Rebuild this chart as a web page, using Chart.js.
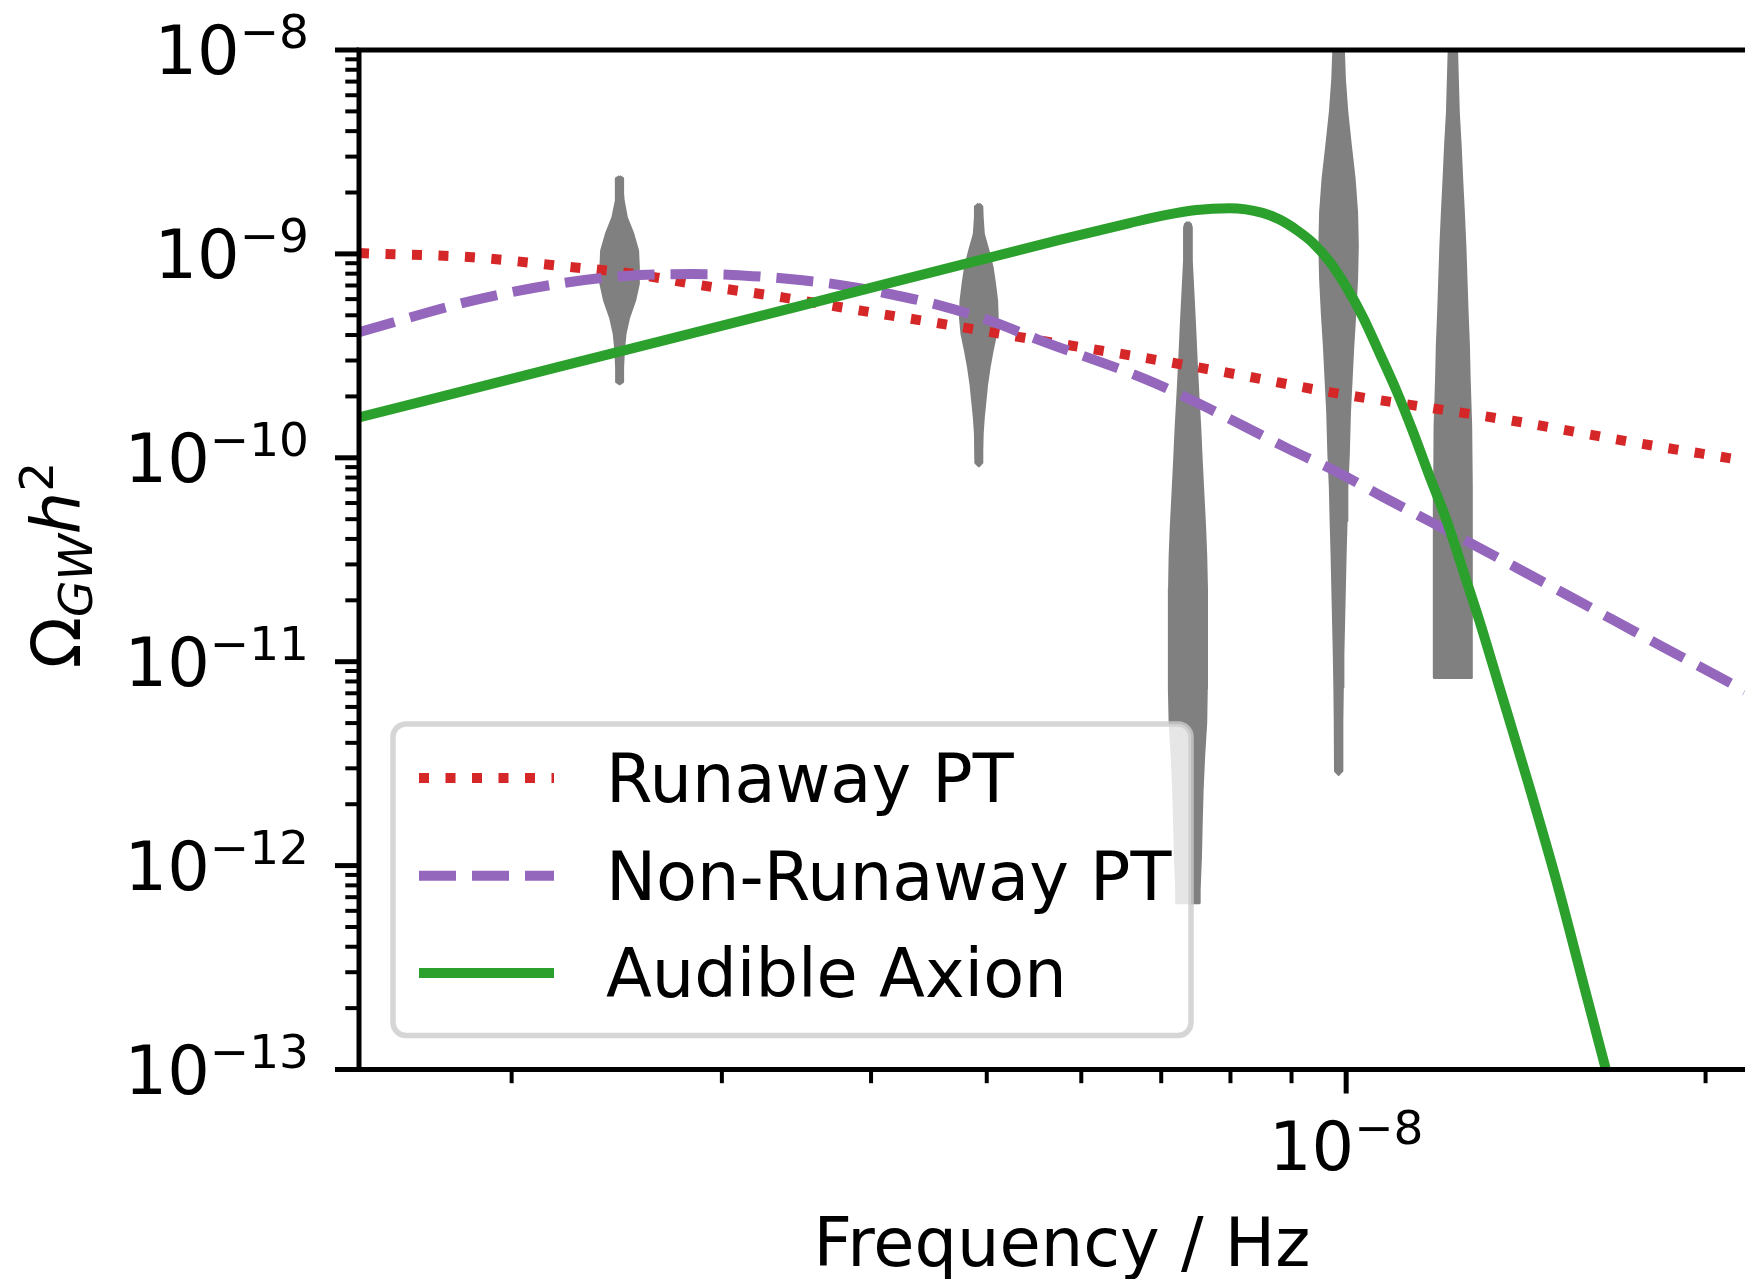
<!DOCTYPE html>
<html>
<head>
<meta charset="utf-8">
<title>Omega_GW h^2 vs frequency</title>
<script src="https://cdn.jsdelivr.net/npm/chart.js@4.4.1/dist/chart.umd.min.js"></script>
<style>
  html, body { margin: 0; padding: 0; background: #fff; }
  canvas { display: block; }
</style>
</head>
<body>
<canvas id="gw" width="1745" height="1279"></canvas>
<script>
// ---- data ----
// axis ranges
var xMin = 1.49e-9, xMax = 2.158e-8;
var yMin = 1e-13, yMax = 1e-8;
var yTickExponents = [-13, -12, -11, -10, -9, -8];
var xTickExponents = [-8];

var legendLabels = ['Runaway PT', 'Non-Runaway PT', 'Audible Axion'];

// Runaway PT (red dotted)
var runawayF = [1.490e-9, 1.855e-9, 2.250e-9, 2.496e-9, 2.895e-9, 3.373e-9, 3.920e-9, 4.556e-9,
  5.297e-9, 6.805e-9, 8.253e-9, 9.685e-9, 1.174e-8, 1.378e-8, 1.727e-8, 2.158e-8];
var runawayOmega = [1.009e-9, 9.62e-10, 8.60e-10, 8.07e-10, 6.99e-10, 6.12e-10, 5.27e-10, 4.57e-10,
  3.93e-10, 3.08e-10, 2.51e-10, 2.10e-10, 1.76e-10, 1.52e-10, 1.20e-10, 9.68e-11];

// Non-Runaway PT (purple dashed)
var nonRunawayF = [1.490e-9, 1.855e-9, 2.185e-9, 2.491e-9, 2.836e-9, 3.062e-9, 3.289e-9, 3.505e-9,
  3.763e-9, 4.146e-9, 4.574e-9, 5.027e-9, 5.535e-9, 6.805e-9, 7.435e-9, 8.190e-9, 8.965e-9,
  9.817e-9, 1.073e-8, 1.174e-8, 1.286e-8, 1.389e-8, 1.530e-8, 1.678e-8, 1.838e-8, 2.012e-8, 2.158e-8];
var nonRunawayOmega = [4.13e-10, 5.90e-10, 7.13e-10, 7.80e-10, 7.96e-10, 7.89e-10, 7.68e-10, 7.42e-10,
  7.05e-10, 6.36e-10, 5.58e-10, 4.71e-10, 3.78e-10, 2.42e-10, 1.91e-10, 1.44e-10, 1.10e-10,
  8.55e-11, 6.44e-11, 4.89e-11, 3.68e-11, 2.89e-11, 2.13e-11, 1.59e-11, 1.19e-11, 8.97e-12, 7.20e-12];

// Audible Axion (green solid)
var axionF = [1.490e-9, 2.194e-9, 3.484e-9, 5.754e-9, 6.586e-9, 7.019e-9, 7.492e-9, 7.986e-9,
  8.511e-9, 8.795e-9, 9.088e-9, 9.373e-9, 9.685e-9, 1.0008e-8, 1.032e-8, 1.067e-8, 1.102e-8,
  1.137e-8, 1.174e-8, 1.214e-8, 1.261e-8, 1.293e-8, 1.339e-8, 1.419e-8, 1.500e-8, 1.578e-8,
  1.649e-8, 1.711e-8];
var axionOmega = [1.578e-10, 2.799e-10, 5.545e-10, 1.171e-9, 1.416e-9, 1.541e-9, 1.643e-9, 1.675e-9,
  1.590e-9, 1.474e-9, 1.310e-9, 1.136e-9, 9.168e-10, 6.848e-10, 4.952e-10, 3.245e-10, 2.129e-10,
  1.352e-10, 8.167e-11, 4.912e-11, 2.495e-11, 1.587e-11, 8.057e-12, 2.603e-12, 8.41e-13, 2.718e-13,
  1.017e-13, 4.457e-14];

// violins: frequency bins, and for each one the Omega values along it with the relative width there
var violinF = [2.463e-9, 4.924e-9, 7.37e-9, 9.855e-9, 1.2285e-8];
var violin1Omega = [2.394e-9, 2.341e-9, 1.976e-9, 1.826e-9, 1.507e-9, 1.258e-9, 1.038e-9, 8.566e-10,
  7.151e-10, 5.901e-10, 4.869e-10, 4.063e-10, 3.353e-10, 2.767e-10, 2.362e-10, 2.309e-10];
var violin1Width = [0, 0.16, 0.16, 0.19, 0.36, 0.70, 0.96, 1.0, 1.0, 0.80, 0.48, 0.29, 0.20, 0.16, 0.16, 0];
var violin2Omega = [1.759e-9, 1.707e-9, 1.512e-9, 1.253e-9, 1.038e-9, 8.594e-10, 7.126e-10, 5.901e-10,
  4.886e-10, 4.050e-10, 3.353e-10, 2.777e-10, 2.302e-10, 1.906e-10, 1.579e-10, 1.309e-10, 1.083e-10,
  9.462e-11, 9.147e-11];
var violin2Width = [0, 0.16, 0.18, 0.24, 0.49, 0.71, 0.84, 0.95, 0.98, 0.90, 0.71, 0.55, 0.42, 0.33,
  0.24, 0.18, 0.16, 0.16, 0];
var violin3Omega = [1.429e-9, 1.400e-9, 1.350e-9, 9.272e-10, 6.363e-10, 4.362e-10, 2.995e-10, 2.056e-10,
  1.410e-10, 9.678e-11, 6.643e-11, 4.555e-11, 3.308e-11, 2.279e-11, 1.295e-11, 7.362e-12, 5.030e-12,
  3.453e-12, 2.378e-12, 1.626e-12, 1.115e-12, 7.685e-13, 6.582e-13];
var violin3Width = [0, 0.13, 0.18, 0.18, 0.27, 0.36, 0.44, 0.53, 0.63, 0.71, 0.80, 0.89, 0.95, 0.98,
  1.0, 0.98, 0.95, 0.84, 0.76, 0.71, 0.67, 0.60, 0.60];
var violin4Omega = [1.562e-8, 9.754e-9, 7.224e-9, 4.952e-9, 3.399e-9, 2.333e-9, 1.600e-9, 1.098e-9,
  7.539e-10, 5.167e-10, 3.548e-10, 2.435e-10, 1.670e-10, 1.043e-10, 7.157e-11, 4.912e-11, 3.373e-11,
  2.312e-11, 1.587e-11, 1.090e-11, 7.472e-12, 5.129e-12, 3.520e-12, 2.914e-12, 2.802e-12];
var violin4Width = [0.20, 0.26, 0.31, 0.44, 0.63, 0.83, 0.96, 1.0, 0.96, 0.87, 0.76, 0.67, 0.58, 0.52,
  0.44, 0.40, 0.35, 0.31, 0.27, 0.23, 0.20, 0.18, 0.17, 0.16, 0];
var violin5Omega = [1.562e-8, 9.754e-9, 4.952e-9, 3.399e-9, 2.333e-9, 1.600e-9, 1.098e-9, 7.539e-10,
  5.167e-10, 3.548e-10, 2.435e-10, 1.437e-10, 7.157e-11, 3.373e-11, 1.587e-11, 8.366e-12];
var violin5Width = [0.19, 0.20, 0.29, 0.39, 0.47, 0.56, 0.64, 0.70, 0.76, 0.83, 0.87, 0.95, 0.97, 0.99,
  0.99, 0.99];

// ---- styling ----
var RED = '#d62728', PURPLE = '#9467bd', GREEN = '#2ca02c', GREY = '#808080';
var LW = 10;
var DOTTED = [10, 16.5], DASHED = [37, 16];
var VIOLIN_HALF_DEX = 0.0157;   // half width of a violin at full density, in decades of frequency
var FONT = '"DejaVu Sans", "Liberation Sans", sans-serif';
var BIG = '67px ' + FONT, SMALL = '47px ' + FONT;

function pts(xs, ys) {
  return xs.map(function (x, i) { return { x: x, y: ys[i] }; });
}

function violinOutline(f, omega, width) {
  var left = omega.map(function (y, i) { return { x: f * Math.pow(10, -width[i] * VIOLIN_HALF_DEX), y: y }; });
  var right = omega.map(function (y, i) { return { x: f * Math.pow(10, width[i] * VIOLIN_HALF_DEX), y: y }; }).reverse();
  return left.concat(right, [left[0]]);
}

function lineSet(label, data, color, dash, order) {
  return {
    label: label, data: data, showLine: true, fill: false,
    borderColor: color, borderWidth: LW, borderDash: dash, borderCapStyle: 'butt',
    pointRadius: 0, cubicInterpolationMode: 'monotone', clip: 0, order: order, isLegend: true
  };
}

function violinSet(data) {
  return {
    data: data, showLine: true, fill: 'shape', tension: 0,
    backgroundColor: GREY, borderColor: GREY, borderWidth: 3, borderJoinStyle: 'round',
    pointRadius: 0, clip: 0, order: 5
  };
}

var datasets = [
  lineSet(legendLabels[0], pts(runawayF, runawayOmega), RED, DOTTED, 2),
  lineSet(legendLabels[1], pts(nonRunawayF, nonRunawayOmega), PURPLE, DASHED, 1),
  lineSet(legendLabels[2], pts(axionF, axionOmega), GREEN, [], 0),
  violinSet(violinOutline(violinF[0], violin1Omega, violin1Width)),
  violinSet(violinOutline(violinF[1], violin2Omega, violin2Width)),
  violinSet(violinOutline(violinF[2], violin3Omega, violin3Width)),
  violinSet(violinOutline(violinF[3], violin4Omega, violin4Width)),
  violinSet(violinOutline(violinF[4], violin5Omega, violin5Width))
];

// "10" with a raised exponent, like matplotlib's mathtext tick labels
function drawPower(ctx, exp, x, baseline, align) {
  var sup = (exp < 0 ? '\u2212' : '') + Math.abs(exp);
  ctx.font = BIG; var w1 = ctx.measureText('10').width;
  ctx.font = SMALL; var w2 = ctx.measureText(sup).width;
  var x0 = align === 'right' ? x - (w1 + w2) : x - (w1 + w2) / 2;
  ctx.textAlign = 'left';
  ctx.textBaseline = 'alphabetic';
  ctx.font = BIG; ctx.fillText('10', x0, baseline);
  ctx.font = SMALL; ctx.fillText(sup, x0 + w1, baseline - 26);
}

function roundRect(ctx, l, t, r, b, rad) {
  ctx.beginPath();
  ctx.moveTo(l + rad, t);
  ctx.arcTo(r, t, r, b, rad);
  ctx.arcTo(r, b, l, b, rad);
  ctx.arcTo(l, b, l, t, rad);
  ctx.arcTo(l, t, r, t, rad);
  ctx.closePath();
}

var decor = {
  id: 'decor',
  afterDatasetsDraw: function (chart) {
    var ctx = chart.ctx, a = chart.chartArea;
    var xs = chart.scales.x, ys = chart.scales.y;
    ctx.save();
    ctx.fillStyle = '#000';
    ctx.strokeStyle = '#000';
    ctx.lineCap = 'butt';

    // spines
    ctx.lineWidth = 5;
    ctx.beginPath();
    ctx.moveTo(a.left, a.top - 2.5); ctx.lineTo(a.left, a.bottom + 2.5);
    ctx.moveTo(a.left, a.top); ctx.lineTo(a.right, a.top);
    ctx.moveTo(a.left, a.bottom); ctx.lineTo(a.right, a.bottom);
    ctx.stroke();

    // y ticks
    yTickExponents.forEach(function (e) {
      var py = ys.getPixelForValue(Math.pow(10, e));
      ctx.lineWidth = 5;
      ctx.beginPath(); ctx.moveTo(a.left, py); ctx.lineTo(a.left - 24, py); ctx.stroke();
      drawPower(ctx, e, 309, py + 24.4, 'right');
      if (e < -8) {
        ctx.lineWidth = 4;
        for (var k = 2; k <= 9; k++) {
          var pm = ys.getPixelForValue(k * Math.pow(10, e));
          ctx.beginPath(); ctx.moveTo(a.left, pm); ctx.lineTo(a.left - 13.7, pm); ctx.stroke();
        }
      }
    });

    // x ticks
    xTickExponents.forEach(function (e) {
      var px = xs.getPixelForValue(Math.pow(10, e));
      ctx.lineWidth = 5;
      ctx.beginPath(); ctx.moveTo(px, a.bottom); ctx.lineTo(px, a.bottom + 24); ctx.stroke();
      drawPower(ctx, e, px, 1170, 'center');
    });
    ctx.lineWidth = 4;
    [-9, -8].forEach(function (e) {
      for (var k = 2; k <= 9; k++) {
        var v = k * Math.pow(10, e);
        if (v <= xMin || v >= xMax) continue;
        var pm = xs.getPixelForValue(v);
        ctx.beginPath(); ctx.moveTo(pm, a.bottom); ctx.lineTo(pm, a.bottom + 13.7); ctx.stroke();
      }
    });

    // axis titles
    ctx.font = BIG;
    ctx.textAlign = 'center';
    ctx.textBaseline = 'alphabetic';
    ctx.fillText('Frequency / Hz', 1062, 1266);

    var parts = [
      { t: '\u03A9', f: BIG, dy: 0 },
      { t: 'GW', f: 'italic ' + SMALL, dy: 11.7 },
      { t: 'h', f: 'italic ' + BIG, dy: 0 },
      { t: '2', f: SMALL, dy: -27 }
    ];
    var total = 0;
    parts.forEach(function (p) { ctx.font = p.f; p.w = ctx.measureText(p.t).width; total += p.w; });
    ctx.save();
    ctx.translate(80, 565 + total / 2);
    ctx.rotate(-Math.PI / 2);
    ctx.textAlign = 'left';
    var cx = 0;
    parts.forEach(function (p) { ctx.font = p.f; ctx.fillText(p.t, cx, p.dy); cx += p.w; });
    ctx.restore();

    // legend
    roundRect(ctx, 393, 724, 1191, 1035.5, 13);
    ctx.fillStyle = 'rgba(255,255,255,0.8)';
    ctx.fill();
    ctx.lineWidth = 5.5;
    ctx.strokeStyle = 'rgba(204,204,204,0.8)';
    ctx.stroke();

    var rows = [778, 875.7, 973];
    var entries = chart.data.datasets.filter(function (d) { return d.isLegend; });
    entries.forEach(function (d, i) {
      ctx.save();
      ctx.strokeStyle = d.borderColor;
      ctx.lineWidth = d.borderWidth;
      ctx.setLineDash(d.borderDash);
      ctx.beginPath(); ctx.moveTo(419, rows[i]); ctx.lineTo(554, rows[i]); ctx.stroke();
      ctx.restore();
      ctx.fillStyle = '#000';
      ctx.font = BIG;
      ctx.textAlign = 'left';
      ctx.fillText(d.label, 606, rows[i] + 24);
    });

    ctx.restore();
  }
};

new Chart(document.getElementById('gw'), {
  type: 'scatter',
  data: { datasets: datasets },
  options: {
    responsive: false,
    animation: false,
    events: [],
    layout: { padding: { top: 50, left: 0, right: 0, bottom: 0 } },
    plugins: { legend: { display: false }, tooltip: { enabled: false } },
    scales: {
      x: {
        type: 'logarithmic', position: 'bottom', min: xMin, max: xMax,
        ticks: { display: false }, grid: { display: false }, border: { display: false },
        afterFit: function (s) { s.height = 1279 - 1069.5; }
      },
      y: {
        type: 'logarithmic', position: 'left', min: yMin, max: yMax,
        ticks: { display: false }, grid: { display: false }, border: { display: false },
        afterFit: function (s) { s.width = 359; }
      }
    }
  },
  plugins: [decor]
});
</script>
</body>
</html>
